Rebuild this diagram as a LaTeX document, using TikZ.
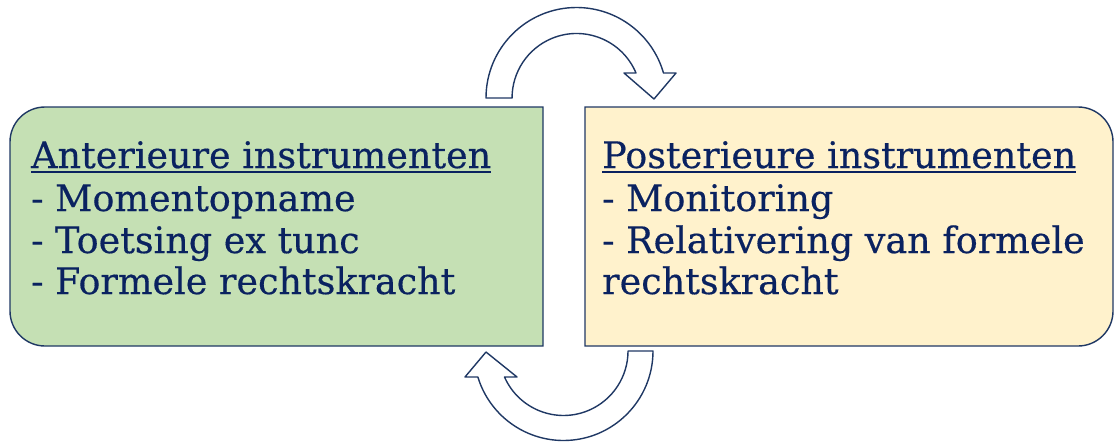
\documentclass[tikz,border=0pt]{standalone}
\usepackage{fontspec}
\setmainfont[FakeBold=0.4]{DejaVu Serif}
\definecolor{navy}{RGB}{31,56,100}
\definecolor{txt}{RGB}{10,34,96}
\definecolor{greenfill}{RGB}{197,224,180}
\definecolor{yellowfill}{RGB}{255,242,204}
\tikzset{
  panel/.style={draw=navy, line width=1.4pt},
  cyclearrow/.style={draw=navy, fill=white, line width=1.4pt, line join=round},
  line/.style={anchor=base west, inner sep=0pt, text=txt, font=\fontsize{36.5}{42}\selectfont},
  uline/.style={draw=txt, line width=2pt}
}
\begin{document}
\begin{tikzpicture}[x=1pt,y=-1pt]
\useasboundingbox (0,0) rectangle (1115,442);
\fill[white] (0,0) rectangle (1115,442);
% left panel
\path[panel, fill=greenfill] (543,107) -- (45,107) arc[start angle=270, end angle=180, radius=35]
  -- (10,311) arc[start angle=180, end angle=90, radius=35] -- (543,346) -- cycle;
% right panel
\path[panel, fill=yellowfill] (585,107) -- (1078,107) arc[start angle=270, end angle=360, radius=35]
  -- (1113,311) arc[start angle=0, end angle=90, radius=35] -- (585,346) -- cycle;
% top circular arrow
\path[cyclearrow] (486,98) arc[start angle=180, end angle=343.96, radius=90.5]
  -- (676,73) -- (654,99) -- (624,73) -- (636,73)
  arc[start angle=337.2, end angle=180, radius=64.5] -- cycle;
% bottom circular arrow
\path[cyclearrow] (653,351) arc[start angle=0, end angle=163.1, radius=89.5]
  -- (465,377) -- (486,352) -- (517,377) -- (504.5,377)
  arc[start angle=156.2, end angle=0, radius=64.5] -- cycle;
% left text
\node[line] (a1) at (31,168) {Anterieure instrumenten};
\node[line] (a2) at (31,211) {- Momentopname};
\node[line] (a3) at (31,253) {- Toetsing ex tunc};
\node[line] (a4) at (31,294) {- Formele rechtskracht};
\draw[uline] ([yshift=-4pt]a1.base west) -- ([yshift=-4pt]a1.base east);
% right text
\node[line] (p1) at (602,168) {Posterieure instrumenten};
\node[line] (p2) at (602,211) {- Monitoring};
\node[line] (p3) at (602,253) {- Relativering van formele};
\node[line] (p4) at (602,294) {rechtskracht};
\draw[uline] ([yshift=-4pt]p1.base west) -- ([yshift=-4pt]p1.base east);
\end{tikzpicture}
\end{document}
